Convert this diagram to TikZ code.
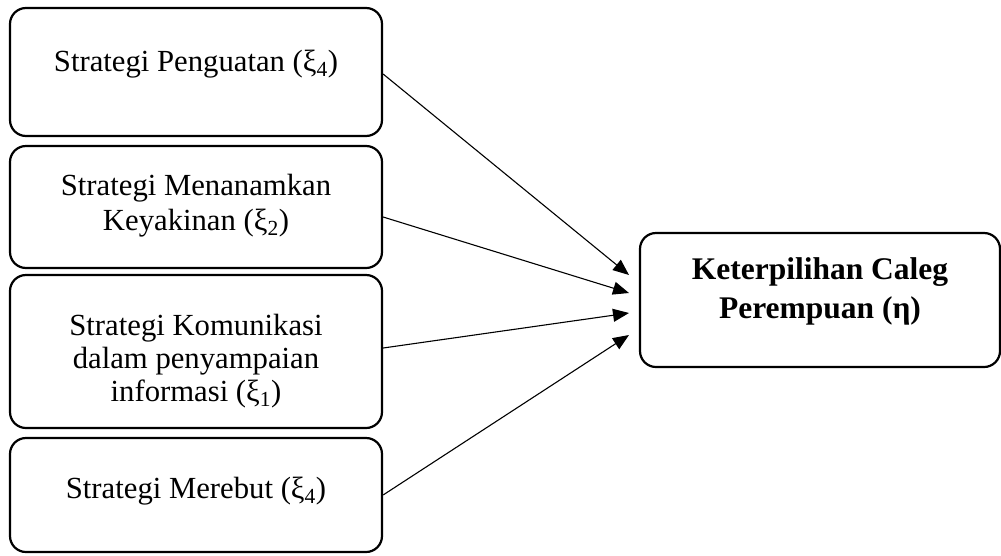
\documentclass[tikz,border=0pt]{standalone}
\usepackage{fontspec}
\setmainfont{Liberation Serif}
\usetikzlibrary{arrows.meta}
\begin{document}
\begin{tikzpicture}[x=1pt,y=1pt,
  box/.style={draw=black, line width=2.2pt, rounded corners=16pt, inner sep=0pt},
  lbl/.style={font=\fontsize{30.7}{35}\selectfont, align=center, anchor=base},
  lblb/.style={font=\fontsize{30.7}{33}\selectfont, align=center, anchor=base},
  blbl/.style={font=\fontsize{31.5}{39}\selectfont\bfseries, align=center, anchor=base},
  arr/.style={line width=1.1pt, -{Triangle[length=16pt,width=13pt]}}]
\useasboundingbox (0,0) rectangle (1001,-555);
% boxes
\node[box, minimum width=372pt, minimum height=128pt] (b1) at (196,-72) {};
\node[box, minimum width=372pt, minimum height=122pt] (b2) at (196,-207) {};
\node[box, minimum width=372pt, minimum height=153pt] (b3) at (196,-351.5) {};
\node[box, minimum width=372pt, minimum height=114pt] (b4) at (196,-495) {};
\node[box, minimum width=360pt, minimum height=134pt] (r) at (820,-300) {};
% texts (anchor = baseline of last line)
\node[lbl] (l1) at (196,-71) {Strategi Penguatan (ξ\textsubscript{4})};
\node[lbl] (l2) at (196,-230) {Strategi Menanamkan\\Keyakinan (ξ\textsubscript{2})};
\node[lblb] (l3) at (196,-401) {Strategi Komunikasi\\dalam penyampaian\\informasi (ξ\textsubscript{1})};
\node[lbl] (l4) at (196,-498) {Strategi Merebut (ξ\textsubscript{4})};
\node[blbl] (lr) at (820,-318) {Keterpilihan Caleg\\Perempuan (η)};
% arrow tips
\coordinate (t1) at (629,-275);
\coordinate (t2) at (629,-293);
\coordinate (t3) at (629,-313);
\coordinate (t4) at (629,-335);
\draw[arr] ([yshift=-2pt]b1.east) -- (t1);
\draw[arr] ([yshift=-10pt]b2.east) -- (t2);
\draw[arr] ([yshift=3.5pt]b3.east) -- (t3);
\draw[arr] (b4.east) -- (t4);
\end{tikzpicture}
\end{document}
